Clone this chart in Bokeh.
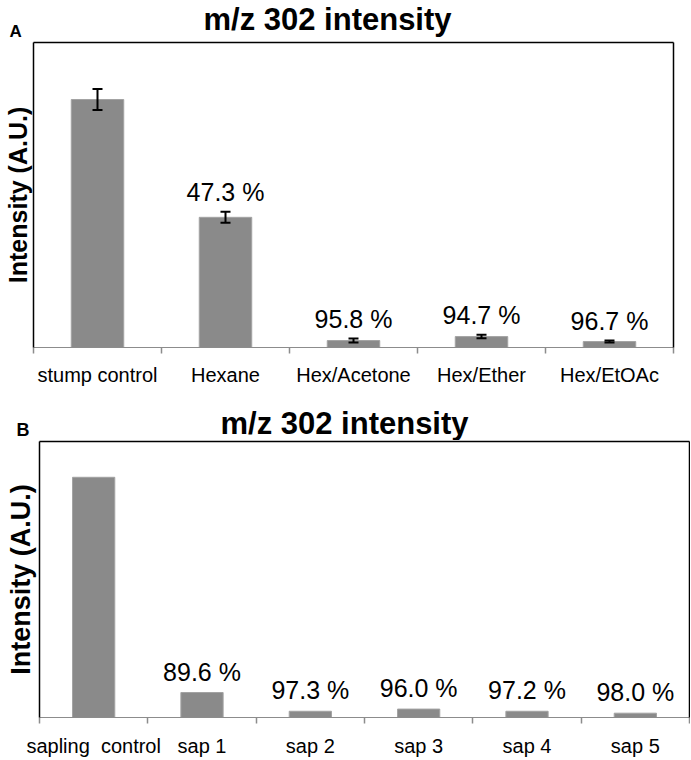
import numpy as np
from bokeh.plotting import figure
from bokeh.models import (ColumnDataSource, Range1d, LinearAxis, FixedTicker,
                          Whisker, TeeHead)
from bokeh.embed import file_html
from bokeh.resources import INLINE
from bokeh.core.properties import value

TITLE = "m/z 302 intensity"
Y_LABEL = "Intensity (A.U.)"

# Panel A
a_categories = ["stump control", "Hexane", "Hex/Acetone", "Hex/Ether", "Hex/EtOAc"]
a_values = [100.0, 52.5, 2.8, 4.4, 2.4]
a_errors = [4.2, 2.2, 0.8, 0.7, 0.4]
a_labels = ["", "47.3 %", "95.8 %", "94.7 %", "96.7 %"]

# Panel B
b_categories = ["sapling\u00a0 control", "sap 1", "sap 2", "sap 3", "sap 4", "sap 5"]
b_values = [100.0, 10.4, 2.6, 3.5, 2.6, 1.8]
b_errors = [0, 0, 0, 0, 0, 0]
b_labels = ["", "89.6 %", "97.3 %", "96.0 %", "97.2 %", "98.0 %"]

BAR_FILL = "#8a8a8a"
BAR_LINE = "#a3a3a3"
AXIS_GRAY = "#8c8c8c"
FONT = "Liberation Sans"
W = 690


def header(height, letter, letter_x, letter_y, letter_size, title_x, title_y, title_size):
    h = figure(width=W, height=height, x_range=Range1d(0, W), y_range=Range1d(height, 0),
               x_axis_type=None, y_axis_type=None, toolbar_location=None,
               output_backend="svg", min_border=0, outline_line_color=None,
               background_fill_color="white", border_fill_color="white")
    h.text(x=[title_x], y=[title_y], text=[TITLE], text_align="center",
           text_baseline="middle", text_font=value(FONT), text_font_style="bold",
           text_font_size=title_size, text_color="black")
    h.text(x=[letter_x], y=[letter_y], text=[letter], text_align="left",
           text_baseline="middle", text_font=value(FONT), text_font_style="bold",
           text_font_size=letter_size, text_color="black")
    return h


def panel(cats, vals, errs, labels, show_err, ymax, height,
          left, right, top, bottom, bar_w, ylabel_size, ylabel_standoff,
          tick_standoff, label_offset):
    n = len(cats)
    xs = list(range(n))
    p = figure(width=W, height=height,
               x_range=Range1d(-0.5, n - 0.5), y_range=Range1d(0, ymax),
               x_axis_type=None, y_axis_type=None,
               toolbar_location=None, output_backend="svg",
               min_border_left=left, min_border_right=right,
               min_border_top=top, min_border_bottom=bottom,
               outline_line_color=None,
               background_fill_color="white", border_fill_color="white")

    src = ColumnDataSource(dict(
        x=xs, top=vals,
        upper=[v + e for v, e in zip(vals, errs)],
        lower=[v - e for v, e in zip(vals, errs)],
        label=labels,
    ))
    p.vbar(x="x", top="top", bottom=0, width=bar_w, source=src,
           fill_color=BAR_FILL, line_color=BAR_LINE, line_width=1)

    if show_err:
        p.add_layout(Whisker(source=src, base="x", upper="upper", lower="lower",
                             level="annotation",
                             line_color="black", line_width=2,
                             upper_head=TeeHead(size=10, line_color="black", line_width=2),
                             lower_head=TeeHead(size=10, line_color="black", line_width=2)))

    p.text(x="x", y="upper", text="label", source=src,
           text_align="center", text_baseline="middle",
           text_font=value(FONT), text_font_size="25px", text_color="black",
           y_offset=label_offset)

    # bottom axis: labels at category centers, tick marks at category boundaries
    xaxis = LinearAxis(
        ticker=FixedTicker(ticks=xs, minor_ticks=[i - 0.5 for i in range(n + 1)]),
        major_label_overrides={i: c for i, c in zip(xs, cats)},
        axis_line_color=AXIS_GRAY, axis_line_width=1.2,
        major_tick_in=0, major_tick_out=0,
        minor_tick_in=0, minor_tick_out=6,
        minor_tick_line_color=AXIS_GRAY, minor_tick_line_width=1.5,
        major_label_text_font=FONT, major_label_text_font_size="20px",
        major_label_text_color="black", major_label_standoff=tick_standoff,
    )
    p.add_layout(xaxis, "below")

    yaxis = LinearAxis(
        ticker=FixedTicker(ticks=[]),
        axis_label=Y_LABEL, axis_label_standoff=ylabel_standoff,
        axis_label_text_font=FONT, axis_label_text_font_style="bold",
        axis_label_text_font_size=ylabel_size, axis_label_text_color="black",
        axis_line_color="black", axis_line_width=1.5,
        major_tick_in=0, major_tick_out=0, minor_tick_in=0, minor_tick_out=0,
    )
    p.add_layout(yaxis, "left")

    for side in ("above", "right"):
        ax = LinearAxis(ticker=FixedTicker(ticks=[]),
                        axis_line_color="black", axis_line_width=1.5,
                        major_tick_in=0, major_tick_out=0,
                        minor_tick_in=0, minor_tick_out=0)
        p.add_layout(ax, side)
    return p


hA = header(41, "A", 9, 31, "17px", 327, 18.5, "31px")
pA = panel(a_categories, a_values, a_errors, a_labels, True, 123.0,
           height=351, left=31, right=W - 673, top=1, bottom=45, bar_w=0.41,
           ylabel_size="25px", ylabel_standoff=2, tick_standoff=10, label_offset=-20)

hB = header(48, "B", 16, 37, "18px", 344, 31, "31px")
pB = panel(b_categories, b_values, b_errors, b_labels, False, 114.9,
           height=319, left=39, right=1, top=1, bottom=41, bar_w=0.39,
           ylabel_size="27px", ylabel_standoff=4, tick_standoff=11, label_offset=-21)

# separate roots so that each panel keeps its own frame borders
with open("out.html", "w") as f:
    f.write(file_html([hA, pA, hB, pB], INLINE))
